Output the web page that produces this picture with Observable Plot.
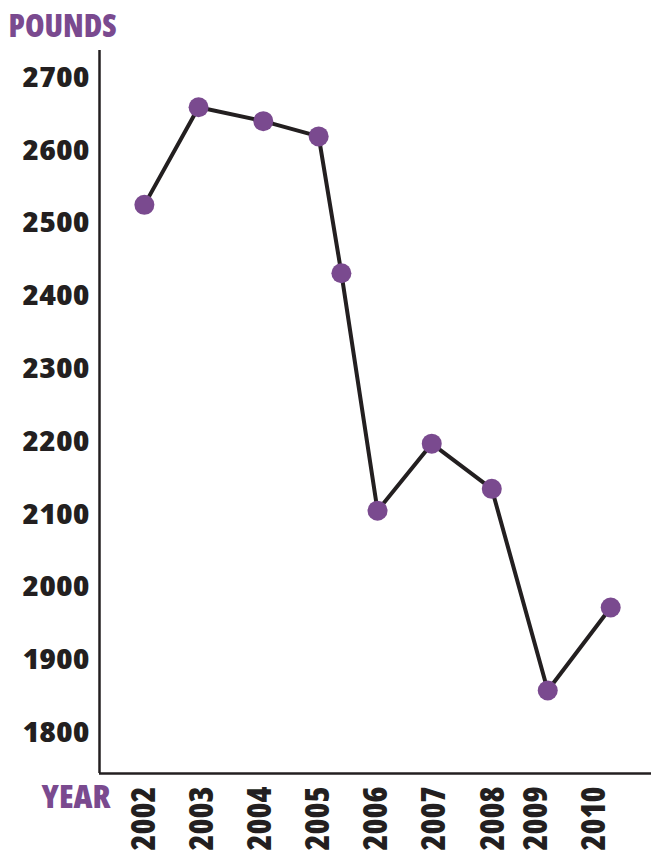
<!DOCTYPE html>
<html>
<head>
<meta charset="utf-8">
<script src="https://cdn.jsdelivr.net/npm/d3@7"></script>
<script src="https://cdn.jsdelivr.net/npm/@observablehq/plot@0.6"></script>
<style>
  html, body { margin: 0; padding: 0; background: #fff; }
  #chart svg { display: block; }
  #chart svg text { font-stretch: condensed; }
</style>
</head>
<body>
<div id="chart"></div>
<script>
// Data
const pointYear = [2002.00, 2002.93, 2004.04, 2004.99, 2005.38, 2006.00, 2006.93, 2007.96, 2008.92, 2010.00];
const pounds    = [2525, 2659, 2640, 2619, 2431, 2105, 2197, 2135, 1858, 1972];

const xTickLabels = ["2002", "2003", "2004", "2005", "2006", "2007", "2008", "2009", "2010"];
const xTickAt     = [2001.97, 2002.97, 2003.96, 2004.96, 2005.96, 2006.96, 2007.96, 2008.70, 2009.69];
const yTicks      = [1800, 1900, 2000, 2100, 2200, 2300, 2400, 2500, 2600, 2700];

const xDomain = [2001.23, 2010.70];
const yDomain = [1744, 2737];

const purple = "#7a4a8f";
const ink = "#231f20";
const font = "'Open Sans', 'Liberation Sans', Arial, sans-serif";

const data = pointYear.map((x, i) => ({x, y: pounds[i]}));
const ticksX = xTickAt.map((x, i) => ({x, label: xTickLabels[i]}));

const chart = Plot.plot({
  width: 651,
  height: 852,
  marginLeft: 99,
  marginRight: 0,
  marginTop: 50,
  marginBottom: 79,
  x: {type: "linear", domain: xDomain, axis: null},
  y: {type: "linear", domain: yDomain, axis: null},
  style: {background: "#fff", color: ink, overflow: "visible", fontFamily: font},
  marks: [
    Plot.ruleX([xDomain[0]], {stroke: ink, strokeWidth: 2.5}),
    Plot.ruleY([yDomain[0]], {stroke: ink, strokeWidth: 2.5}),
    Plot.axisY({
      ticks: yTicks,
      tickSize: 0,
      tickPadding: 10,
      fontSize: 29,
      fontWeight: 800,
      fontFamily: font,
      fill: ink,
      label: null,
      tickFormat: d => String(d)
    }),
    Plot.text(ticksX, {
      x: "x",
      text: "label",
      frameAnchor: "bottom",
      rotate: -90,
      textAnchor: "end",
      lineAnchor: "bottom",
      dx: 12,
      dy: 13,
      fontSize: 33,
      fontWeight: 800,
      fontFamily: font,
      fill: ink
    }),
    Plot.line(data, {x: "x", y: "y", stroke: ink, strokeWidth: 4}),
    Plot.dot(data, {x: "x", y: "y", r: 10, fill: purple, stroke: "none"}),
    Plot.text(["POUNDS"], {
      frameAnchor: "top-left",
      textAnchor: "start",
      lineAnchor: "bottom",
      dx: -91,
      dy: -14,
      fontSize: 32,
      fontWeight: 800,
      fontFamily: font,
      fill: purple
    }),
    Plot.text(["YEAR"], {
      frameAnchor: "bottom-left",
      textAnchor: "start",
      lineAnchor: "bottom",
      dx: -58,
      dy: 34,
      fontSize: 32,
      fontWeight: 800,
      fontFamily: font,
      fill: purple
    })
  ]
});

// Stretch / compress texts to the reference widths (typographic styling only)
const yLabelSet = new Set(yTicks.map(String));
const xLabelSet = new Set(xTickLabels);
d3.select(chart).selectAll("text").each(function () {
  const t = this.textContent.trim();
  let len = null;
  if (yLabelSet.has(t)) len = 67;
  else if (xLabelSet.has(t)) len = 64;
  else if (t === "POUNDS") len = 108;
  else if (t === "YEAR") len = 69;
  if (len) {
    this.setAttribute("textLength", len);
    this.setAttribute("lengthAdjust", "spacingAndGlyphs");
  }
});

document.getElementById("chart").appendChild(chart);
</script>
</body>
</html>
